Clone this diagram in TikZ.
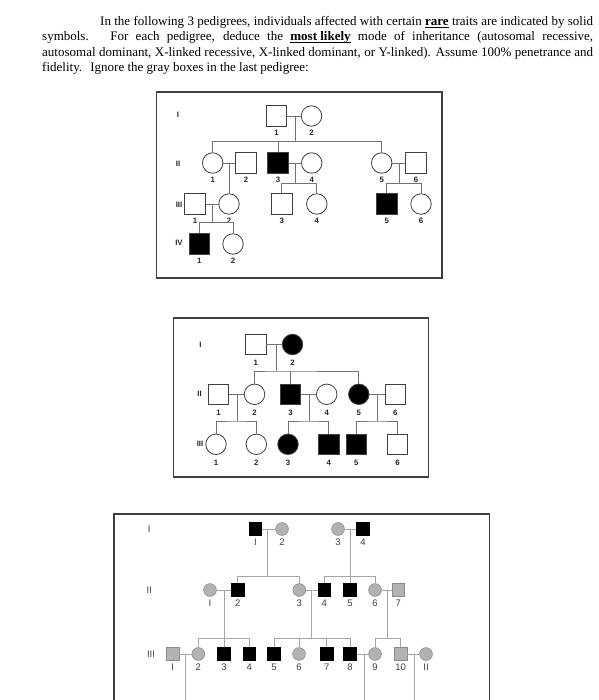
\documentclass[tikz,border=0pt]{standalone}
\usepackage{fontspec}
\setmainfont{Liberation Serif}
\setsansfont{Liberation Sans}
\newcommand\ulbold[1]{\underline{\smash{\textbf{#1}}}}
\begin{document}
\begin{tikzpicture}[x=1pt,y=-1pt,
  boxA/.style={draw=black!75,line width=1.2pt},
  lnA/.style={draw=black!55,line width=0.8pt},
  sqA/.style={rectangle,draw=black!75,fill=white,line width=0.8pt,minimum size=20.5pt,inner sep=0pt},
  ciA/.style={circle,draw=black!75,fill=white,line width=0.8pt,minimum size=20.5pt,inner sep=0pt},
  aff/.style={fill=black},
  labA/.style={font=\sffamily\bfseries\fontsize{7.8}{8}\selectfont,inner sep=0pt,text=black!85},
  nA/.style={label={[labA,label distance=3.5pt]below:#1}},
  nB/.style={label={[labA,label distance=5pt]below:#1}},
  lnC/.style={draw=black!35,line width=0.8pt},
  sqC/.style={rectangle,draw=black!45,fill=black!30,line width=0.6pt,minimum size=12.5pt,inner sep=0pt},
  ciC/.style={circle,draw=black!45,fill=black!30,line width=0.6pt,minimum size=12.8pt,inner sep=0pt},
  affC/.style={draw=black,fill=black},
  labC/.style={font=\sffamily\fontsize{9.5}{10}\selectfont,inner sep=0pt,text=black!75},
  nC/.style={label={[labC,label distance=3.4pt]below:#1}}
]
\useasboundingbox (0,0) rectangle (598,700);
\clip (0,0) rectangle (598,700);
\fill[white] (0,0) rectangle (598,700);

% ---------- header text ----------
\node[anchor=north west,inner sep=0pt,text width=551pt,align=justify,
      font=\fontsize{13}{15.4}\selectfont] (intro) at (42,16) {%
\hspace*{58pt}In the following 3 pedigrees, individuals affected with certain \ulbold{rare} traits are indicated by solid\linebreak
symbols.\hspace{0.4em} For each pedigree, deduce the \ulbold{most likely} mode of inheritance (autosomal recessive,\linebreak
autosomal dominant, X-linked recessive, X-linked dominant, or Y-linked). Assume 100\% penetrance and\linebreak
fidelity.\hspace{0.3em} Ignore the gray boxes in the last pedigree:};

% ---------- pedigree 1 ----------
\draw[boxA] (156.5,92) rectangle (442,278);
\node[labA] (ga1) at (178,115) {I};
\node[labA] (ga2) at (178,164) {II};
\node[labA] (ga3) at (179,205) {III};
\node[labA] (ga4) at (179,243) {IV};

\coordinate (ma1) at (295,116);
\coordinate (sa1) at (295,141.5);
\coordinate (ma2) at (229,163);
\coordinate (ma3) at (295,163);
\coordinate (sa3) at (295,183.3);
\coordinate (ma4) at (399,163);
\coordinate (sa4) at (399,183.3);
\coordinate (ma5) at (212,204);
\coordinate (sa5) at (212,222.7);

\node[sqA,nA=1] (a11) at (276.5,116) {};
\node[ciA,nA=2] (a12) at (311.5,116) {};
\node[ciA,nA=1] (a21) at (212.7,163) {};
\node[sqA,nA=2] (a22) at (246,163) {};
\node[sqA,aff,nA=3] (a23) at (278,163) {};
\node[ciA,nA=4] (a24) at (311.7,163) {};
\node[ciA,nA=5] (a25) at (381.7,163) {};
\node[sqA,nA=6] (a26) at (416,163) {};
\node[sqA,nA=1] (a31) at (195,204) {};
\node[ciA,nA=2] (a32) at (229,204) {};
\node[sqA,nA=3] (a33) at (281.7,204) {};
\node[ciA,nA=4] (a34) at (316.8,204) {};
\node[sqA,aff,nA=5] (a35) at (386.7,204) {};
\node[ciA,nA=6] (a36) at (421,204) {};
\node[sqA,aff,nA=1] (a41) at (199.3,244) {};
\node[ciA,nA=2] (a42) at (233,244) {};

\draw[lnA] (a11.east) -- (a12.west);
\draw[lnA] (ma1) -- (sa1);
\draw[lnA] (a21.north) |- (sa1) -| (a25.north);
\draw[lnA] (a23.north) -- (a23.north |- sa1);
\draw[lnA] (a21.east) -- (a22.west);
\draw[lnA] (ma2) -- (a32.north);
\draw[lnA] (a23.east) -- (a24.west);
\draw[lnA] (ma3) -- (sa3);
\draw[lnA] (a33.north) |- (sa3) -| (a34.north);
\draw[lnA] (a25.east) -- (a26.west);
\draw[lnA] (ma4) -- (sa4);
\draw[lnA] (a35.north) |- (sa4) -| (a36.north);
\draw[lnA] (a31.east) -- (a32.west);
\draw[lnA] (ma5) -- (sa5);
\draw[lnA] (a41.north) |- (sa5) -| (a42.north);

% ---------- pedigree 2 ----------
\draw[boxA] (173.5,318) rectangle (428.5,477);
\node[labA] (gb1) at (200.5,345) {I};
\node[labA] (gb2) at (199.5,394) {II};
\node[labA] (gb3) at (200,444) {III};

\coordinate (mb1) at (276,344.5);
\coordinate (sb1) at (276,371);
\coordinate (mb2) at (237.2,394.3);
\coordinate (sb2) at (237.2,421);
\coordinate (mb3) at (309,394.3);
\coordinate (sb3) at (309,421);
\coordinate (mb4) at (377,394.3);
\coordinate (sb4) at (377,421);

\node[sqA,nB=1] (b11) at (255.8,344.5) {};
\node[ciA,aff,nB=2] (b12) at (292.5,344.5) {};
\node[sqA,nB=1] (b21) at (218.5,394.3) {};
\node[ciA,nB=2] (b22) at (254.5,394.3) {};
\node[sqA,aff,nB=3] (b23) at (290.5,394.3) {};
\node[ciA,nB=4] (b24) at (326.7,394.3) {};
\node[ciA,aff,nB=5] (b25) at (358.8,394.3) {};
\node[sqA,nB=6] (b26) at (395.3,394.3) {};
\node[ciA,nB=1] (b31) at (216,444.3) {};
\node[ciA,nB=2] (b32) at (256.3,444.3) {};
\node[ciA,aff,nB=3] (b33) at (288,444.3) {};
\node[sqA,aff,nB=4] (b34) at (328.7,444.3) {};
\node[sqA,aff,nB=5] (b35) at (356.2,444.3) {};
\node[sqA,nB=6] (b36) at (397.5,444.3) {};

\draw[lnA] (b11.east) -- (b12.west);
\draw[lnA] (mb1) -- (sb1);
\draw[lnA] (b22.north) |- (sb1) -| (b25.north);
\draw[lnA] (b23.north) -- (b23.north |- sb1);
\draw[lnA] (b21.east) -- (b22.west);
\draw[lnA] (mb2) -- (sb2);
\draw[lnA] (b31.north) |- (sb2) -| (b32.north);
\draw[lnA] (b23.east) -- (b24.west);
\draw[lnA] (mb3) -- (sb3);
\draw[lnA] (b33.north) |- (sb3) -| (b34.north);
\draw[lnA] (b25.east) -- (b26.west);
\draw[lnA] (mb4) -- (sb4);
\draw[lnA] (b35.north) |- (sb4) -| (b36.north);

% ---------- pedigree 3 ----------
\draw[boxA] (114,514) rectangle (489.3,720);
\node[labC] (gc1) at (149.3,529) {I};
\node[labC] (gc2) at (149.3,590) {II};
\node[labC] (gc3) at (151,654) {III};

\coordinate (mc1) at (267.3,529);
\coordinate (sc1) at (267.3,576.7);
\coordinate (mc2) at (350,529);
\coordinate (sc2) at (350,576.7);
\coordinate (mc3) at (224,590);
\coordinate (sc3) at (224,638.3);
\coordinate (mc4) at (311.7,590);
\coordinate (sc4) at (311.7,638.3);
\coordinate (mc5) at (387,590);
\coordinate (sc5) at (387,638.3);
\coordinate (mc6) at (185,654);
\coordinate (ec6) at (185,705);
\coordinate (mc7) at (364,654);
\coordinate (ec7) at (364,705);
\coordinate (mc8) at (414,654);
\coordinate (ec8) at (414,705);

\draw[lnC] (mc1) -- (sc1);
\draw[lnC] (mc2) -- (sc2);
\draw[lnC] (mc3) -- (sc3);
\draw[lnC] (mc4) -- (sc4);
\draw[lnC] (mc5) -- (sc5);
\draw[lnC] (mc6) -- (ec6);
\draw[lnC] (mc7) -- (ec7);
\draw[lnC] (mc8) -- (ec8);

\node[sqC,affC,nC=I] (c11) at (255.5,529) {};
\node[ciC,nC=2] (c12) at (282,529) {};
\node[ciC,nC=3] (c13) at (338,529) {};
\node[sqC,affC,nC=4] (c14) at (363,529) {};
\node[ciC,nC=I] (c21) at (210,590) {};
\node[sqC,affC,nC=2] (c22) at (237.7,590) {};
\node[ciC,nC=3] (c23) at (299.3,590) {};
\node[sqC,affC,nC=4] (c24) at (324.3,590) {};
\node[sqC,affC,nC=5] (c25) at (350,590) {};
\node[ciC,nC=6] (c26) at (375,590) {};
\node[sqC,nC=7] (c27) at (398.3,590) {};
\node[sqC,nC=I] (c31) at (172.7,654) {};
\node[ciC,nC=2] (c32) at (198.3,654) {};
\node[sqC,affC,nC=3] (c33) at (224,654) {};
\node[sqC,affC,nC=4] (c34) at (249.3,654) {};
\node[sqC,affC,nC=5] (c35) at (274,654) {};
\node[ciC,nC=6] (c36) at (299,654) {};
\node[sqC,affC,nC=7] (c37) at (326.7,654) {};
\node[sqC,affC,nC=8] (c38) at (350,654) {};
\node[ciC,nC=9] (c39) at (375,654) {};
\node[sqC,nC=10] (c310) at (400.7,654) {};
\node[ciC,nC=II] (c311) at (426,654) {};

\draw[lnC] (c11.east) -- (c12.west);
\draw[lnC] (c13.east) -- (c14.west);
\draw[lnC] (c22.north) |- (sc1) -| (c23.north);
\draw[lnC] (c24.north) |- (sc2) -| (c26.north);
\draw[lnC] (c25.north) -- (c25.north |- sc2);
\draw[lnC] (c21.east) -- (c22.west);
\draw[lnC] (c23.east) -- (c24.west);
\draw[lnC] (c26.east) -- (c27.west);
\draw[lnC] (c32.north) |- (sc3) -| (c34.north);
\draw[lnC] (c33.north) -- (c33.north |- sc3);
\draw[lnC] (c35.north) |- (sc4) -| (c38.north);
\draw[lnC] (c36.north) -- (c36.north |- sc4);
\draw[lnC] (c37.north) -- (c37.north |- sc4);
\draw[lnC] (c39.north) |- (sc5) -| (c310.north);
\draw[lnC] (c31.east) -- (c32.west);
\draw[lnC] (c38.east) -- (c39.west);
\draw[lnC] (c310.east) -- (c311.west);
\end{tikzpicture}
\end{document}
